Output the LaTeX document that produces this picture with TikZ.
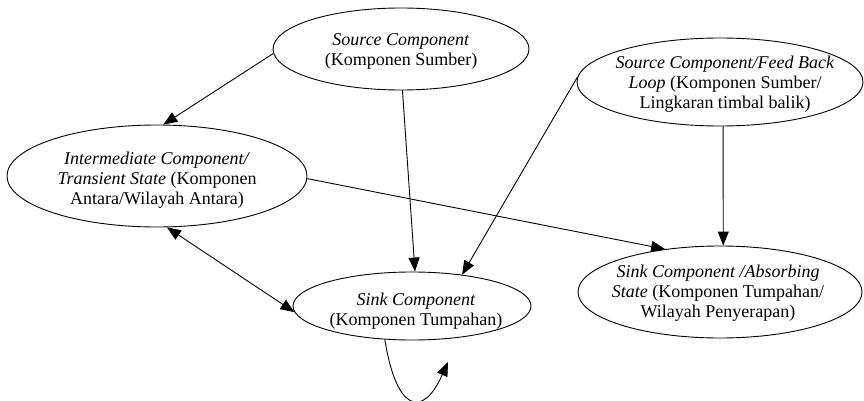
\documentclass[tikz,border=0pt]{standalone}
\usepackage{fontspec}
\setmainfont{Liberation Serif}
\usetikzlibrary{shapes.geometric,arrows.meta}
\tikzset{
  ell/.style={ellipse, draw, line width=0.9pt, inner sep=0pt},
  txt/.style={align=center, inner sep=0pt, font=\fontsize{18}{20}\selectfont},
  arr/.style={line width=0.9pt, -{Triangle[length=14pt,width=11pt]}},
  dbl/.style={line width=0.9pt, {Triangle[length=14pt,width=11pt]}-{Triangle[length=14pt,width=11pt]}}
}
\begin{document}
\begin{tikzpicture}[x=1pt,y=-1pt]
\useasboundingbox (0,0) rectangle (864,401);
% ellipses
\node[ell, minimum width=256pt, minimum height=82pt] (S) at (401,49) {};
\node[ell, minimum width=300pt, minimum height=102pt] (I) at (157,176) {};
\node[ell, minimum width=286pt, minimum height=88pt] (F) at (720,82) {};
\node[ell, minimum width=284pt, minimum height=92pt] (A) at (720,292) {};
\node[ell, minimum width=238pt, minimum height=68pt] (K) at (412,306) {};
% texts
\node[txt] (St) at (401,51) {\textit{Source Component}\\(Komponen Sumber)};
\node[txt] (It) at (157,180) {\textit{Intermediate Component/}\\\textit{Transient State} (Komponen\\Antara/Wilayah Antara)};
\node[txt] (Ft) at (725,84) {\textit{Source Component/Feed Back}\\\textit{Loop} (Komponen Sumber/\\Lingkaran timbal balik)};
\node[txt] (At) at (718,293) {\textit{Sink Component /Absorbing}\\\textit{State} (Komponen Tumpahan/\\Wilayah Penyerapan)};
\node[txt] (Kt) at (416,311) {\textit{Sink Component}\\(Komponen Tumpahan)};
% connectors
\draw[arr] (S.182) -- (I.83);
\draw[arr] (S.-88) -- (K.85);
\draw[arr] (F.178) -- (K.32);
\draw[arr] (F.-86) -- (A.86);
\draw[arr] (I.-1) -- (A.142);
\draw[dbl] (I.-79) -- (K.183);
\coordinate (loopend) at (448,362);
\draw[arr] (K.-129) .. controls (396,410) and (422,420) .. (loopend);
\end{tikzpicture}
\end{document}
